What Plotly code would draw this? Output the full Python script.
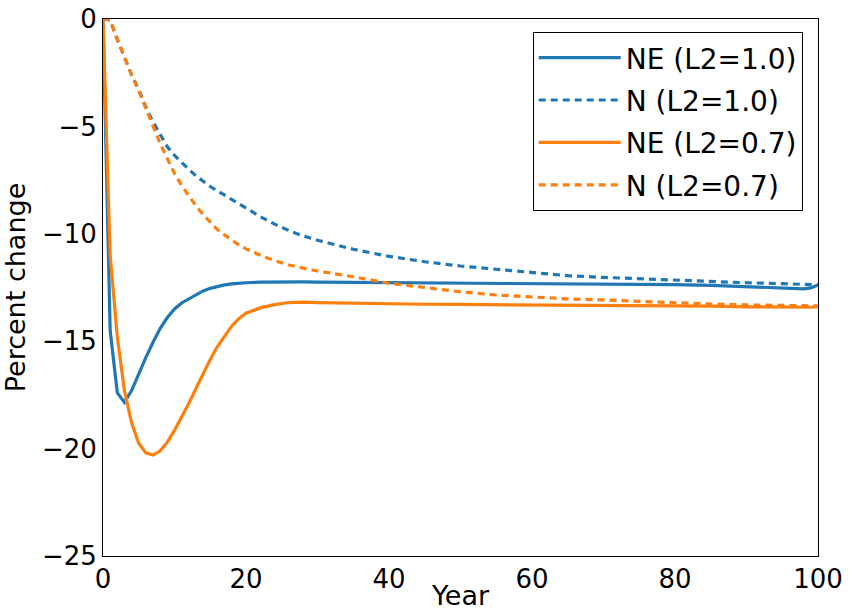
import plotly.graph_objects as go

years = [0, 1, 2, 3, 4, 5, 6, 7, 8, 9, 10, 11, 12, 13, 14, 15, 16, 17, 18, 19, 20,
         22, 24, 26, 28, 30, 35, 40, 45, 50, 55, 60, 65, 70, 75, 80, 85, 90, 95, 97, 98, 99, 100]

ne_l2_10 = [0, -14.5, -17.4, -17.85, -17.3, -16.5, -15.75, -15.05, -14.4, -13.9, -13.5, -13.22, -13.02,
            -12.82, -12.66, -12.54, -12.45, -12.38, -12.33, -12.3, -12.28,
            -12.25, -12.24, -12.24, -12.24, -12.25, -12.26, -12.27, -12.27, -12.28, -12.29, -12.3,
            -12.31, -12.33, -12.35, -12.37, -12.4, -12.45, -12.51, -12.54, -12.56, -12.52, -12.38]

n_l2_10 = [0, -0.05, -0.95, -1.8, -2.6, -3.3, -4.1, -4.8, -5.4, -5.95, -6.35, -6.7, -7.0,
           -7.3, -7.55, -7.8, -8.0, -8.2, -8.4, -8.6, -8.8,
           -9.2, -9.55, -9.85, -10.1, -10.3, -10.72, -11.05, -11.3, -11.5, -11.65, -11.8,
           -11.95, -12.03, -12.1, -12.15, -12.22, -12.28, -12.32, -12.34, -12.35, -12.36, -12.38]

ne_l2_07 = [0, -11.0, -14.8, -17.3, -18.8, -19.75, -20.2, -20.3, -20.1, -19.7, -19.15, -18.55, -17.9,
            -17.2, -16.5, -15.85, -15.25, -14.75, -14.3, -13.95, -13.7,
            -13.45, -13.3, -13.2, -13.18, -13.2, -13.23, -13.27, -13.28, -13.29, -13.3, -13.3,
            -13.31, -13.31, -13.33, -13.35, -13.37, -13.4, -13.43, -13.44, -13.44, -13.42, -13.39]

n_l2_07 = [0, -0.05, -0.95, -1.8, -2.6, -3.35, -4.2, -4.95, -5.8, -6.5, -7.2, -7.75, -8.25,
           -8.7, -9.1, -9.45, -9.8, -10.05, -10.3, -10.52, -10.7,
           -11.0, -11.25, -11.45, -11.6, -11.73, -12.0, -12.3, -12.5, -12.7, -12.85, -12.95,
           -13.03, -13.08, -13.15, -13.22, -13.27, -13.31, -13.34, -13.35, -13.36, -13.36, -13.36]

names = ["NE (L2=1.0)", "N (L2=1.0)", "NE (L2=0.7)", "N (L2=0.7)"]
series = [ne_l2_10, n_l2_10, ne_l2_07, n_l2_07]
colors = ["#1f77b4", "#1f77b4", "#ff7f0e", "#ff7f0e"]
dashes = ["solid", "7px,5px", "solid", "7px,5px"]

x_ticks = [0, 20, 40, 60, 80, 100]
y_ticks = [0, -5, -10, -15, -20, -25]

FONT = "DejaVu Sans"

fig = go.Figure()
for i, (nm, ys, c, d) in enumerate(zip(names, series, colors, dashes)):
    fig.add_trace(go.Scatter(
        x=years, y=ys, mode="lines", name=nm, legendgroup=f"g{i}",
        line=dict(color=c, width=3.2, dash=d),
    ))

fig.update_layout(
    width=850, height=611,
    margin=dict(l=103, r=32, t=19, b=55),
    paper_bgcolor="white", plot_bgcolor="white",
    font=dict(family=FONT, size=26, color="black"),
    showlegend=True,
    legend=dict(
        x=0.601, y=0.976, xanchor="left", yanchor="top",
        bordercolor="black", borderwidth=1, bgcolor="white",
        font=dict(family=FONT, size=28, color="black"),
        traceorder="grouped", tracegroupgap=3, itemwidth=82,
    ),
    xaxis=dict(
        range=[0, 100], tickvals=x_ticks, ticks="", showgrid=False, zeroline=False,
        showline=True, linecolor="black", linewidth=1, mirror=True, automargin=False,
        title=dict(text="Year", font=dict(size=27)),
        tickfont=dict(size=26),
    ),
    yaxis=dict(
        range=[-25, 0], tickvals=y_ticks, ticks="", showgrid=False, zeroline=False,
        showline=True, linecolor="black", linewidth=1, mirror=True, automargin=False,
        title=dict(text="Percent change", font=dict(size=27), standoff=8),
        tickfont=dict(size=26),
    ),
)

fig.write_html("out.html")
